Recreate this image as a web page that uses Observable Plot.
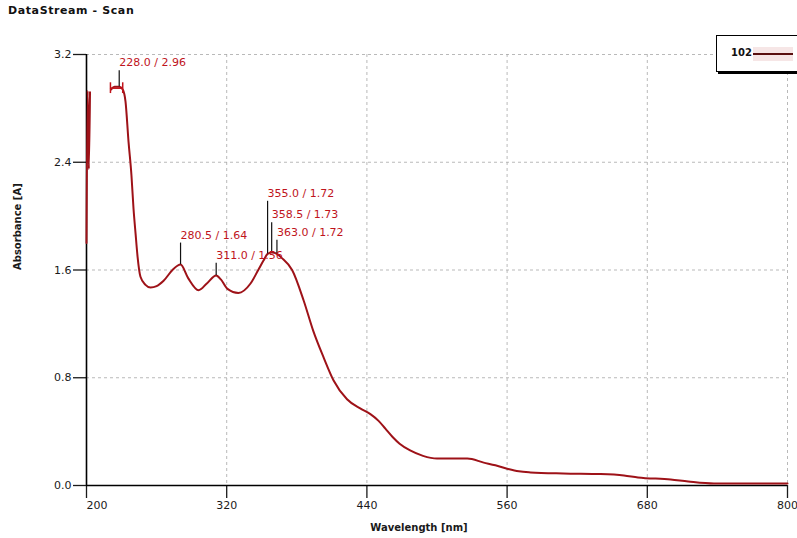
<!DOCTYPE html>
<html>
<head>
<meta charset="utf-8">
<script src="https://cdn.jsdelivr.net/npm/d3@7"></script>
<script src="https://cdn.jsdelivr.net/npm/@observablehq/plot@0.6"></script>
<style>
  body { margin: 0; background: #fff; font-family: "DejaVu Sans", sans-serif; }
  #wrap { position: relative; width: 797px; height: 538px; overflow: hidden; }
  #title { position: absolute; left: 8px; top: 4px; font-size: 11px; letter-spacing: 0.6px; font-weight: bold; color: #111; }
  #chart { position: absolute; left: 0; top: 22px; }
  #legend { position: absolute; left: 716px; top: 35px; width: 80px; height: 35px; border: 1px solid #000;
            box-shadow: 2px 2px 0 #000; background: #fff; }
  #legend .lab { position: absolute; left: 14px; top: 11px; font-size: 10px; font-weight: bold; color: #111; }
  #legend .sw { position: absolute; left: 36px; top: 11px; width: 40px; height: 14px; background: #f6e6e6; }
  #legend .ln { position: absolute; left: 36px; top: 17px; width: 40px; height: 2px; background: #5a1010; }
</style>
</head>
<body>
<div id="wrap">
  <div id="title">DataStream - Scan</div>
  <div id="chart"></div>
  <div id="legend"><span class="lab">102</span><span class="sw"></span><span class="ln"></span></div>
</div>
<script>
// Spectrum (wavelength nm, absorbance A); null = off-scale gap
const wavelengths = [200, 201, 202, 203, 210, 221, 224, 228, 231, 233.4, 236, 238.5, 240.2, 242, 243.7, 246.2, 250.5, 254.8, 260, 266, 273.6, 280.5, 287, 295.9, 303, 311, 315, 320.7, 330, 340.4, 347, 351.5, 355, 358.5, 363, 367, 376, 386, 394, 403, 411.5, 423, 434.6, 443, 450, 456, 462, 468, 477, 488, 500, 515, 526, 540, 550, 560, 570, 580, 608, 640, 660, 672, 700, 715, 737, 760, 800];
const absorbance = [1.8, 2.93, 2.35, 2.92, null, 2.94, 2.96, 2.96, 2.94, 2.85, 2.55, 2.3, 2.06, 1.87, 1.7, 1.55, 1.49, 1.47, 1.48, 1.52, 1.6, 1.64, 1.54, 1.45, 1.5, 1.56, 1.53, 1.46, 1.43, 1.5, 1.6, 1.67, 1.72, 1.73, 1.72, 1.69, 1.6, 1.37, 1.15, 0.95, 0.78, 0.64, 0.57, 0.53, 0.48, 0.42, 0.36, 0.31, 0.26, 0.22, 0.2, 0.2, 0.2, 0.17, 0.15, 0.125, 0.105, 0.097, 0.089, 0.085, 0.075, 0.06, 0.045, 0.03, 0.015, 0.015, 0.015];

// Peak annotations
const peakWavelengths = [228.0, 280.5, 311.0, 355.0, 358.5, 363.0];
const peakValues = [2.96, 1.64, 1.56, 1.72, 1.73, 1.72];
const peakLabelLevels = [3.08, 1.80, 1.65, 2.11, 1.95, 1.82];
const peakSpanX1 = [220.5];
const peakSpanX2 = [231];
const peakSpanY = [2.95];

// Axis ticks
const xTicks = [200, 320, 440, 560, 680, 800];
const yTicks = [0, 0.8, 1.6, 2.4, 3.2];

const spectrum = wavelengths.map((w, i) => ({w, a: absorbance[i]}));
const peaks = peakWavelengths.map((w, i) => ({w, a: peakValues[i], top: peakLabelLevels[i],
  label: `${w.toFixed(1)} / ${peakValues[i].toFixed(2)}`}));
const spans = peakSpanY.map((y, i) => ({x1: peakSpanX1[i], x2: peakSpanX2[i], y}));
const spanEnds = spans.flatMap(s => [{x: s.x1, y: s.y}, {x: s.x2, y: s.y}]);

const red = "#c0141c";
const curveColor = "#9e1218";

const chart = Plot.plot({
  width: 797,
  height: 516,
  marginLeft: 86,
  marginRight: 10,
  marginTop: 32,
  marginBottom: 53,
  style: {fontFamily: "DejaVu Sans, sans-serif", fontSize: "11px", color: "#1a1a1a", background: "transparent", overflow: "visible"},
  x: {type: "linear", domain: [200, 800]},
  y: {type: "linear", domain: [0, 3.2]},
  marks: [
    Plot.gridX(xTicks.slice(1), {stroke: "#a8a8a8", strokeOpacity: 0.8, strokeDasharray: "3,3"}),
    Plot.gridY(yTicks.slice(1), {stroke: "#a8a8a8", strokeOpacity: 0.8, strokeDasharray: "3,3"}),
    Plot.axisX(xTicks.slice(1), {tickSize: 13, tickPadding: 3, strokeWidth: 1.3, label: null}),
    Plot.axisX([xTicks[0]], {tickSize: 13, tickPadding: 3, strokeWidth: 1.3, textAnchor: "start", label: null}),
    Plot.axisY(yTicks, {tickSize: 13, tickPadding: 2, strokeWidth: 1.3, tickFormat: d3.format(".1f"), label: null}),
    Plot.ruleX([200], {stroke: "#000", strokeWidth: 1.6}),
    Plot.ruleY([0], {stroke: "#000", strokeWidth: 1.6}),
    Plot.text(["Absorbance [A]"], {frameAnchor: "left", rotate: -90, dx: -69, fontWeight: "bold", fontSize: 10}),
    Plot.text(["Wavelength [nm]"], {frameAnchor: "bottom", dx: -18, dy: 45, fontWeight: "bold", fontSize: 10}),
    Plot.line(spectrum, {x: "w", y: "a", stroke: curveColor, strokeWidth: 2, curve: "monotone-x"}),
    Plot.ruleY(spans, {y: "y", x1: "x1", x2: "x2", stroke: red, strokeWidth: 1.6}),
    Plot.ruleX(spanEnds, {x: "x", y1: d => d.y - 0.04, y2: d => d.y + 0.04, stroke: red, strokeWidth: 1.5}),
    Plot.ruleX(peaks, {x: "w", y1: "a", y2: "top", stroke: "#111", strokeWidth: 1.2}),
    Plot.text(peaks, {x: "w", y: "top", text: "label", dy: -8, textAnchor: "start", fill: red, fontSize: 11})
  ]
});
document.getElementById("chart").appendChild(chart);
</script>
</body>
</html>
